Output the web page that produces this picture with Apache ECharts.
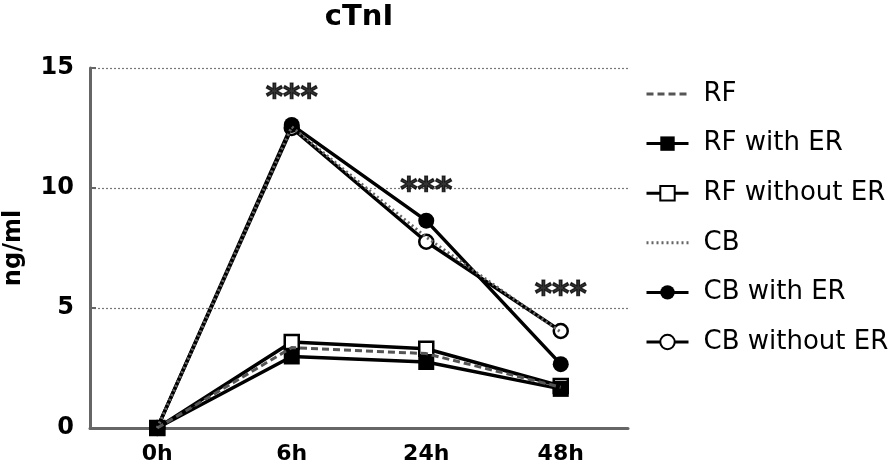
<!DOCTYPE html>
<html>
<head>
<meta charset="utf-8">
<script src="https://cdn.jsdelivr.net/npm/echarts@6/dist/echarts.min.js"></script>
<style>
html,body{margin:0;padding:0;background:#fff;}
#chart{width:896px;height:467px;}
</style>
</head>
<body>
<div id="chart"></div>
<script>
const categories = ['0h', '6h', '24h', '48h'];
const rf = [0, 3.35, 3.1, 1.7];
const rfWithER = [0, 2.98, 2.75, 1.63];
const rfWithoutER = [0, 3.58, 3.3, 1.75];
const cb = [0, 12.55, 7.95, 4.0];
const cbWithER = [0, 12.63, 8.64, 2.66];
const cbWithoutER = [0, 12.5, 7.76, 4.04];
const annotCats = ['6h', '24h', '48h'];
const annotValues = [14.04, 10.13, 5.83];
const annotText = ['***', '***', '***'];
const yTicks = [0, 5, 10, 15];

const FONT = 'DejaVu Sans';
const chart = echarts.init(document.getElementById('chart'));

function solidSeries(name, data, symbol, filled) {
  return {
    name: name, type: 'line', data: data,
    symbol: symbol,
    symbolSize: filled ? 16 : 14,
    showSymbol: true,
    lineStyle: {color: '#000', width: 3.5},
    itemStyle: filled ? {color: '#000', borderWidth: 0} : {color: '#fff', borderColor: '#000', borderWidth: 2.5},
    z: filled ? 4 : 3,
    animation: false
  };
}

const hiddenSym = {color: 'rgba(0,0,0,0)', borderWidth: 0, opacity: 0};

const option = {
  animation: false,
  backgroundColor: '#fff',
  title: {
    text: 'cTnI', left: 359, top: 3, textAlign: 'center', padding: 0,
    textStyle: {fontFamily: FONT, fontWeight: 'bold', fontSize: 29, color: '#000'}
  },
  grid: {left: 90, right: 268, top: 68, bottom: 39, containLabel: false, outerBoundsMode: 'none'},
  legend: {
    orient: 'vertical', left: 645, top: 81, itemWidth: 42, itemHeight: 18, itemGap: 23.6,
    padding: 0,
    lineStyle: {width: 3},
    data: [
      {name: 'RF', itemStyle: hiddenSym},
      'RF with ER',
      'RF without ER',
      {name: 'CB', itemStyle: hiddenSym},
      'CB with ER',
      'CB without ER'
    ],
    textStyle: {fontFamily: FONT, fontSize: 26, color: '#000', lineHeight: 25, padding: [0, 0, 0, 10]}
  },
  xAxis: {
    type: 'category', data: categories, boundaryGap: true,
    axisLine: {lineStyle: {color: '#666', width: 3}},
    axisTick: {show: false},
    axisLabel: {fontFamily: FONT, fontWeight: 'bold', fontSize: 22, color: '#000', margin: 15}
  },
  yAxis: {
    type: 'value', min: yTicks[0], max: yTicks[yTicks.length - 1], interval: 5,
    name: 'ng/ml', nameLocation: 'middle', nameRotate: 90, nameGap: 64,
    nameTextStyle: {fontFamily: FONT, fontWeight: 'bold', fontSize: 24, color: '#000'},
    axisLine: {show: true, lineStyle: {color: '#666', width: 3}},
    axisTick: {show: true, inside: true, length: 6, lineStyle: {color: '#666', width: 2}},
    axisLabel: {fontFamily: FONT, fontWeight: 'bold', fontSize: 24, color: '#000', margin: 16},
    splitLine: {show: true, lineStyle: {color: '#777', width: 1.2, type: [2, 2]}}
  },
  series: [
    {
      name: 'RF', type: 'line', data: rf, symbol: 'none',
      lineStyle: {color: '#555', width: 3, type: [7, 4]},
      itemStyle: {color: '#555'}, z: 5
    },
    solidSeries('RF with ER', rfWithER, 'rect', true),
    solidSeries('RF without ER', rfWithoutER, 'rect', false),
    {
      name: 'CB', type: 'line', data: cb, symbol: 'none',
      lineStyle: {color: '#666', width: 3, type: [2, 3]},
      itemStyle: {color: '#666'}, z: 5
    },
    solidSeries('CB with ER', cbWithER, 'circle', true),
    solidSeries('CB without ER', cbWithoutER, 'circle', false),
    {
      name: 'sig', type: 'scatter', symbolSize: 0,
      data: annotCats.map((c, i) => [c, annotValues[i], annotText[i]]),
      label: {
        show: true, position: 'inside', offset: [0, 8],
        formatter: p => p.data[2],
        fontFamily: FONT, fontWeight: 'bold', fontSize: 33, color: '#000',
        textBorderColor: '#000', textBorderWidth: 1.2
      },
      silent: true, z: 10
    }
  ]
};
chart.setOption(option);
</script>
</body>
</html>
